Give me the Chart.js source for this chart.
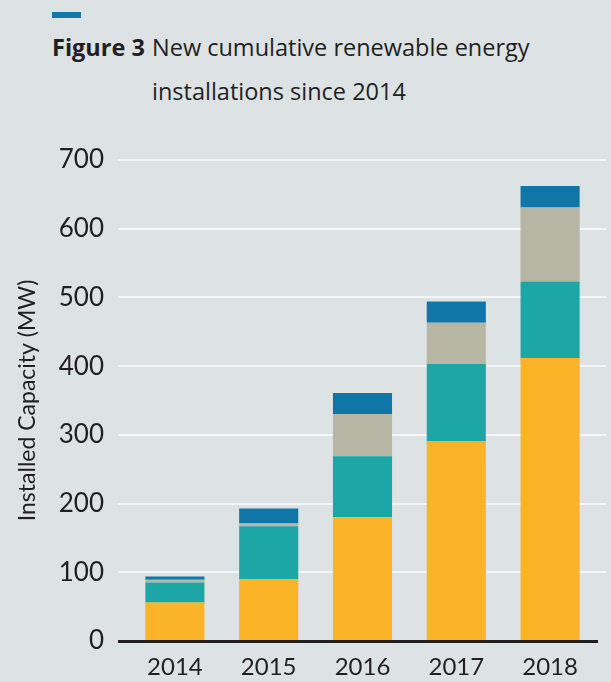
<!DOCTYPE html>
<html>
<head>
<meta charset="utf-8">
<script src="https://cdn.jsdelivr.net/npm/chart.js@4/dist/chart.umd.min.js"></script>
<style>
  html, body { margin: 0; padding: 0; background: #dde2e5; }
  #wrap { position: relative; width: 611px; height: 682px; overflow: hidden; background: #dde2e5; }
  #bar { position: absolute; left: 52px; top: 12px; width: 29px; height: 6px; background: #1077a8; }
  #title { position: absolute; left: 52px; top: 25px; font-family: "Open Sans", sans-serif; font-size: 23.5px; color: #231f20; line-height: 44px; display: flex; }
  #title .fig { font-weight: bold; width: 100px; }
  #cv { position: absolute; left: 0; top: 0; }
</style>
</head>
<body>
<div id="wrap">
  <div id="bar"></div>
  <div id="title"><div class="fig">Figure 3</div><div class="txt">New cumulative renewable energy<br>installations since 2014</div></div>
  <canvas id="cv" width="611" height="682"></canvas>
</div>
<script>
const years = ['2014', '2015', '2016', '2017', '2018'];
const series1 = [56, 90, 180, 291, 412];   // orange (bottom)
const series2 = [29, 77, 89, 112, 111];    // teal
const series3 = [4, 4, 61, 60, 108];       // grey-beige
const series4 = [5, 22, 31, 31, 31];       // blue (top)
const yTicks = [0, 100, 200, 300, 400, 500, 600, 700];
const yTitle = 'Installed Capacity (MW)';

const gridPlugin = {
  id: 'customGrid',
  beforeDatasetsDraw(chart) {
    const ctx = chart.ctx, y = chart.scales.y, a = chart.chartArea;
    ctx.save();
    ctx.strokeStyle = '#f4f6f7';
    ctx.lineWidth = 2;
    yTicks.forEach(v => {
      if (v === 0) return;
      const py = Math.round(y.getPixelForValue(v));
      ctx.beginPath();
      ctx.moveTo(a.left - 10, py);
      ctx.lineTo(a.right + 9, py);
      ctx.stroke();
    });
    ctx.restore();
  },
  afterDatasetsDraw(chart) {
    const ctx = chart.ctx, y = chart.scales.y, a = chart.chartArea;
    ctx.save();
    ctx.strokeStyle = '#231f20';
    ctx.lineWidth = 3;
    const py = y.getPixelForValue(0) + 0.5;
    ctx.beginPath();
    ctx.moveTo(a.left - 10, py);
    ctx.lineTo(a.right + 1, py);
    ctx.stroke();
    ctx.restore();
  }
};

const mk = (label, data, color) => ({
  label, data, backgroundColor: color, borderWidth: 0,
  barPercentage: 0.63, categoryPercentage: 1.0
});

new Chart(document.getElementById('cv'), {
  type: 'bar',
  data: {
    labels: years,
    datasets: [
      mk('Series 1', series1, '#fbb327'),
      mk('Series 2', series2, '#1da6a6'),
      mk('Series 3', series3, '#b7b5a3'),
      mk('Series 4', series4, '#1076a7')
    ]
  },
  plugins: [gridPlugin],
  options: {
    responsive: false,
    animation: false,
    devicePixelRatio: 1,
    layout: { padding: { top: 160, right: 14, bottom: 0, left: 0 } },
    plugins: { legend: { display: false }, tooltip: { enabled: false }, title: { display: false } },
    scales: {
      x: {
        stacked: true,
        grid: { display: false, drawTicks: false },
        border: { display: false },
        ticks: { color: '#231f20', font: { family: 'Lato', size: 24, weight: 'normal' }, padding: 12 },
        afterFit(s) { s.height = 41; }
      },
      y: {
        stacked: true,
        min: 0, max: 700,
        afterBuildTicks(s) { s.ticks = yTicks.map(v => ({ value: v })); },
        grid: { display: false, drawTicks: false },
        border: { display: false },
        ticks: { color: '#231f20', font: { family: 'Lato', size: 26, weight: 'normal' }, padding: 24 },
        title: { display: true, text: yTitle, color: '#231f20', font: { family: 'Lato', size: 23, weight: 'normal' }, padding: { top: 14, bottom: 0 } },
        afterFit(s) { s.width = 128; }
      }
    }
  }
});
</script>
</body>
</html>
